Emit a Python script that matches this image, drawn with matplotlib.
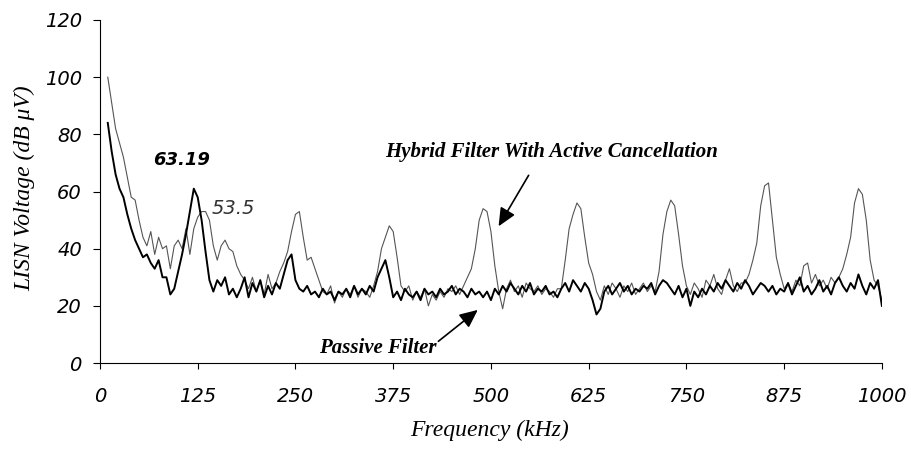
import numpy as np
import matplotlib.pyplot as plt

# frequency axis in kHz, 5 kHz steps
freq = np.arange(10, 1001, 5)

# hybrid filter with active cancellation (thin trace), dB uV
hybrid = [100, 91, 82, 77, 72, 65, 58, 57, 50, 44, 41, 46, 38, 44, 40, 41, 33, 41, 43,
          40, 47, 38, 47, 51, 53, 53, 50, 41, 36, 41, 43, 40, 39, 34, 31, 29, 26, 30, 25,
          29, 24, 31, 26, 28, 32, 35, 39, 46, 52, 53, 44, 36, 37, 33, 29, 25, 24, 27, 21,
          25, 23, 26, 24, 27, 23, 26, 25, 23, 27, 32, 40, 44, 48, 46, 37, 27, 25, 27, 22,
          25, 23, 26, 20, 24, 22, 25, 23, 26, 25, 27, 24, 27, 30, 33, 40, 50, 54, 53, 46,
          34, 25, 19, 26, 29, 25, 27, 23, 28, 26, 25, 27, 24, 26, 25, 23, 26, 26, 36, 47,
          52, 56, 54, 44, 35, 31, 25, 22, 27, 24, 28, 26, 23, 27, 25, 28, 24, 26, 28, 25,
          27, 25, 32, 45, 53, 57, 55, 45, 34, 27, 24, 28, 26, 23, 29, 27, 31, 26, 24, 29,
          33, 27, 25, 28, 28, 31, 36, 42, 55, 62, 63, 50, 37, 31, 26, 28, 25, 29, 27, 34,
          35, 28, 31, 27, 29, 26, 30, 28, 30, 33, 38, 44, 56, 61, 59, 50, 36, 29, 27, 22]

# passive filter (thick trace), dB uV
passive = [84, 74, 66, 61, 58, 52, 47, 43, 40, 37, 38, 35, 33, 36, 30, 30, 24, 26, 32,
           38, 45, 53, 61, 58, 50, 39, 29, 25, 29, 27, 30, 24, 26, 23, 26, 30, 23, 28, 25,
           29, 23, 27, 24, 28, 26, 31, 36, 38, 29, 26, 25, 27, 24, 25, 23, 26, 24, 25, 22,
           25, 24, 26, 23, 27, 24, 26, 24, 27, 25, 30, 33, 36, 30, 23, 25, 22, 26, 24, 23,
           25, 22, 26, 24, 25, 23, 26, 24, 25, 27, 24, 26, 25, 23, 26, 24, 25, 23, 25, 22,
           26, 24, 27, 25, 28, 26, 24, 27, 25, 28, 24, 26, 25, 27, 24, 25, 23, 26, 28, 25,
           29, 27, 25, 28, 26, 22, 17, 19, 25, 27, 24, 26, 28, 25, 27, 24, 26, 25, 27, 26,
           28, 24, 27, 29, 28, 26, 24, 27, 23, 26, 20, 25, 23, 26, 24, 27, 25, 28, 26, 29,
           27, 25, 28, 26, 29, 27, 24, 26, 28, 27, 25, 27, 24, 26, 25, 28, 24, 27, 30, 25,
           27, 24, 26, 29, 25, 27, 24, 28, 30, 27, 25, 28, 26, 31, 27, 24, 28, 26, 29, 20]

xticks = [0, 125, 250, 375, 500, 625, 750, 875, 1000]
yticks = [0, 20, 40, 60, 80, 100, 120]

fig = plt.figure(figsize=(9.12, 4.51), dpi=100)
ax = fig.add_axes([0.1096, 0.195, 0.8574, 0.7607])

ax.plot(freq, hybrid, color='#555555', lw=0.8)
ax.plot(freq, passive, color='black', lw=1.4)

ax.set_xlim(0, 1000)
ax.set_ylim(0, 120)
ax.set_xticks(xticks)
ax.set_yticks(yticks)
ax.spines['top'].set_visible(False)
ax.spines['right'].set_visible(False)
ax.tick_params(axis='x', direction='out', length=4, pad=13)
ax.tick_params(axis='y', direction='out', length=5, pad=8)
for lab in ax.get_xticklabels() + ax.get_yticklabels():
    lab.set_fontstyle('italic')
    lab.set_fontsize(14)

serif = 'Liberation Serif'
fig.text(25 / 912, 1 - 188 / 451, 'LISN Voltage (dB \u03bcV)', rotation=90,
         ha='center', va='center', family=serif, style='italic', fontsize=17)
fig.text(490 / 912, 1 - 430 / 451, 'Frequency (kHz)', ha='center', va='center',
         family=serif, style='italic', fontsize=17)

ax.text(104, 71, '63.19', ha='center', va='center', style='italic',
        weight='bold', fontsize=13)
ax.text(170, 54.2, '53.5', ha='center', va='center', style='italic',
        fontsize=14, color='#333333')

ax.annotate('', xy=(508, 47), xytext=(550, 66.5),
            arrowprops=dict(arrowstyle='-|>,head_length=1.1,head_width=0.5',
                            color='black', lw=1.2))
ax.text(577, 73.8, 'Hybrid Filter With Active Cancellation', ha='center',
        va='center', family=serif, style='italic', weight='bold', fontsize=15)

ax.annotate('', xy=(486, 19.2), xytext=(430, 7.0),
            arrowprops=dict(arrowstyle='-|>,head_length=1.1,head_width=0.5',
                            color='black', lw=1.2))
ax.text(355, 5.2, 'Passive Filter', ha='center', va='center', family=serif,
        style='italic', weight='bold', fontsize=15)

fig.savefig('out.png', dpi=100)
